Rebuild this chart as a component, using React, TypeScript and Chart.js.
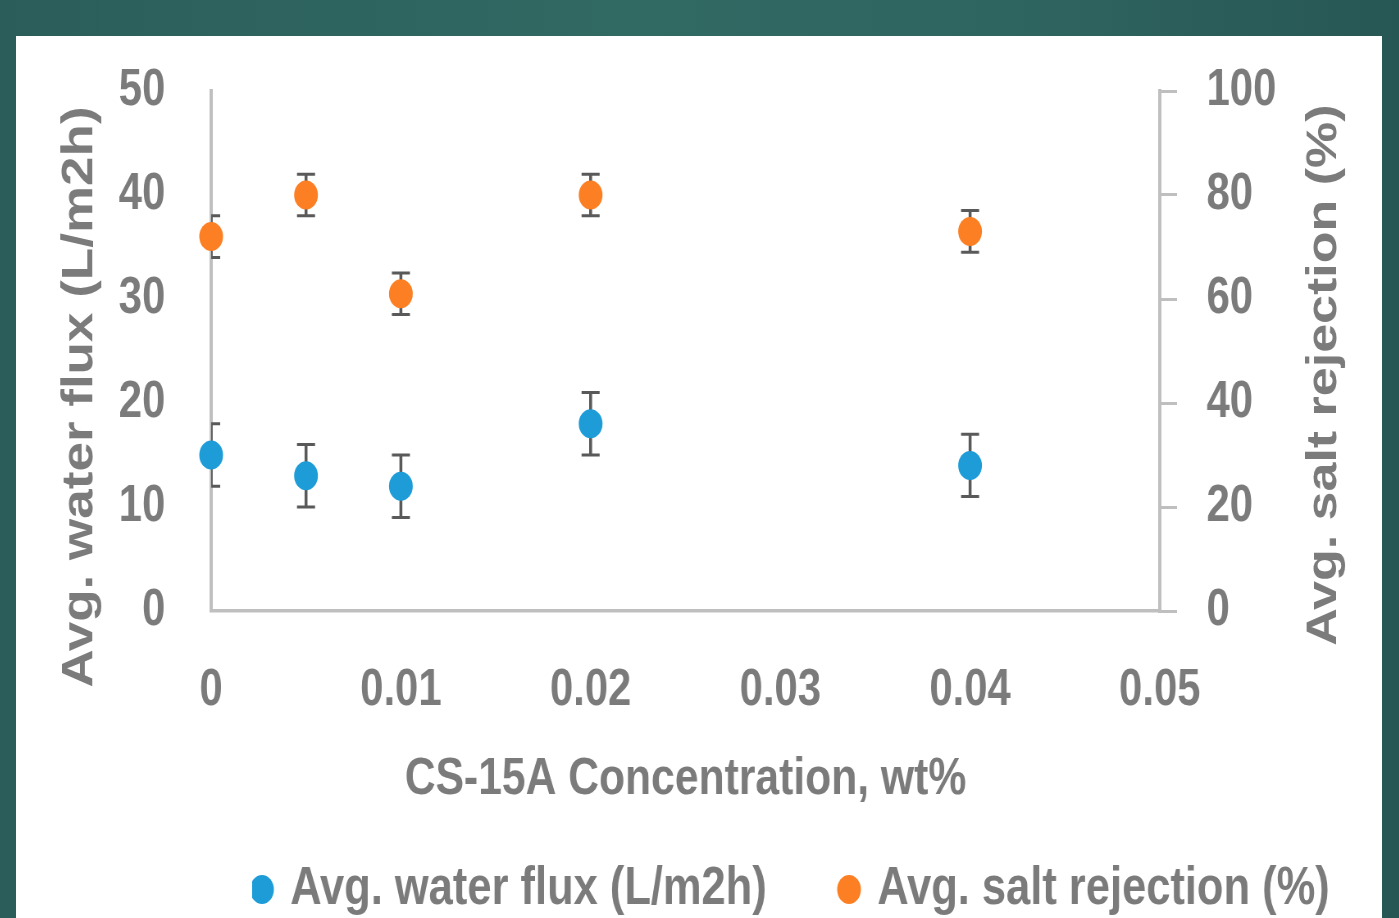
import React, { useEffect, useRef } from 'react';
import { Chart, registerables } from 'chart.js';

Chart.register(...registerables);

// ---- data ----
const xValues = [0, 0.005, 0.01, 0.02, 0.04];
const fluxValues = [15, 13, 12, 18, 14];
const fluxErrors = [3, 3, 3, 3, 3];
const rejectionValues = [72, 80, 61, 80, 73];
const rejectionErrors = [4, 4, 4, 4, 4];
const xTickLabels = ['0', '0.01', '0.02', '0.03', '0.04', '0.05'];
const leftTickLabels = ['0', '10', '20', '30', '40', '50'];
const rightTickLabels = ['0', '20', '40', '60', '80', '100'];
const seriesNames = ['Avg. water flux (L/m2h)', 'Avg. salt rejection (%)'];
const xTitle = 'CS-15A Concentration, wt%';
const leftTitle = 'Avg. water flux (L/m2h)';
const rightTitle = 'Avg. salt rejection (%)';

// ---- style ----
const TEXT = '#7b7b7b';
const AXIS = '#bfbfbf';
const BLUE = '#1e9cd8';
const ORANGE = '#fc7f24';
const FONT = '"Liberation Sans", Arial, sans-serif';
const CANVAS_W = 1666; // drawn wide, then squeezed horizontally like the original slide
const CANVAS_H = 882;
const PANEL_W = 1366;

const errorBarPlugin = {
  id: 'errorBars',
  beforeDatasetsDraw(chart: any) {
    const { ctx, chartArea } = chart;
    ctx.save();
    ctx.beginPath();
    ctx.rect(chartArea.left, chartArea.top - 40, chartArea.right - chartArea.left, chartArea.bottom - chartArea.top + 80);
    ctx.clip();
    ctx.strokeStyle = '#595959';
    chart.data.datasets.forEach((ds: any) => {
      const xs = chart.scales.x;
      const ys = chart.scales[ds.yAxisID];
      ds.data.forEach((pt: any, i: number) => {
        const e = ds.errors[i];
        const x = xs.getPixelForValue(pt.x);
        const yt = ys.getPixelForValue(pt.y + e);
        const yb = ys.getPixelForValue(pt.y - e);
        ctx.lineWidth = 3.6;
        ctx.beginPath();
        ctx.moveTo(x, yt);
        ctx.lineTo(x, yb);
        ctx.stroke();
        ctx.lineWidth = 3;
        ctx.beginPath();
        ctx.moveTo(x - 11, yt);
        ctx.lineTo(x + 11, yt);
        ctx.moveTo(x - 11, yb);
        ctx.lineTo(x + 11, yb);
        ctx.stroke();
      });
    });
    ctx.restore();
  },
};

const titlesPlugin = {
  id: 'yTitles',
  afterLayout(chart: any) {
    const lg = chart.legend;
    if (lg) {
      lg.left = 288;
      lg.top += 8;
      lg.bottom += 8;
    }
  },
  afterDraw(chart: any) {
    const { ctx, chartArea } = chart;
    const cy = (chartArea.top + chartArea.bottom) / 2;
    ctx.save();
    ctx.fillStyle = TEXT;
    ctx.textAlign = 'center';
    ctx.textBaseline = 'middle';
    ctx.save();
    ctx.font = `bold 53px ${FONT}`;
    ctx.translate(chart.scales.y.left + 78, cy + 46);
    ctx.rotate(-Math.PI / 2);
    ctx.fillText(leftTitle, 0, 0);
    ctx.restore();
    ctx.save();
    ctx.font = `bold 52px ${FONT}`;
    ctx.translate(chart.scales.y1.right - 70, cy + 24);
    ctx.rotate(-Math.PI / 2);
    ctx.fillText(rightTitle, 0, 0);
    ctx.restore();
    ctx.restore();
  },
};

export default function App() {
  const ref = useRef<HTMLCanvasElement>(null);
  useEffect(() => {
    const font = { family: FONT, size: 51, weight: 'bold' as const };
    const chart = new Chart(ref.current!, {
      type: 'scatter',
      data: {
        datasets: [
          {
            label: seriesNames[0],
            data: xValues.map((x, i) => ({ x, y: fluxValues[i] })),
            errors: fluxErrors,
            yAxisID: 'y',
            pointStyle: 'circle',
            pointRadius: 14.5,
            pointBorderWidth: 0,
            borderWidth: 0,
            backgroundColor: BLUE,
            borderColor: BLUE,
            clip: false,
          } as any,
          {
            label: seriesNames[1],
            data: xValues.map((x, i) => ({ x, y: rejectionValues[i] })),
            errors: rejectionErrors,
            yAxisID: 'y1',
            pointStyle: 'circle',
            pointRadius: 14.5,
            pointBorderWidth: 0,
            borderWidth: 0,
            backgroundColor: ORANGE,
            borderColor: ORANGE,
            clip: false,
          } as any,
        ],
      },
      options: {
        animation: false,
        responsive: true,
        maintainAspectRatio: false,
        layout: { padding: { top: 55, left: 0, right: 0, bottom: 0 } },
        plugins: {
          tooltip: { enabled: false },
          legend: {
            position: 'bottom',
            align: 'start',
            labels: {
              usePointStyle: true,
              boxWidth: 16,
              boxHeight: 20.5,
              padding: 4,
              color: TEXT,
              font: { family: FONT, size: 53, weight: 'bold' },
              generateLabels: (c: any) => {
                const items = Chart.defaults.plugins.legend.labels.generateLabels(c);
                items[0].text = items[0].text + '      ';
                return items;
              },
            },
          },
        },
        scales: {
          x: {
            type: 'linear',
            min: 0,
            max: 0.05,
            grid: { display: false },
            border: { display: true, color: AXIS, width: 3.5 },
            ticks: {
              stepSize: 0.01,
              padding: 41,
              color: TEXT,
              font,
              callback: (v: any) => xTickLabels[Math.round(Number(v) / 0.01)],
            },
            title: {
              display: true,
              text: xTitle,
              color: TEXT,
              font: { family: FONT, size: 52, weight: 'bold' },
              padding: { top: 0, bottom: 40 },
            },
            afterFit: (s: any) => {
              s.height = 240;
            },
          },
          y: {
            type: 'linear',
            position: 'left',
            min: 0,
            max: 50,
            grid: { display: false },
            border: { display: true, color: AXIS, width: 4 },
            ticks: {
              stepSize: 10,
              padding: 48,
              color: TEXT,
              font,
              callback: (v: any) => leftTickLabels[Math.round(Number(v) / 10)],
            },
            afterFit: (s: any) => {
              s.width = 238;
              s.paddingTop = 0;
              s.paddingBottom = 0;
            },
          },
          y1: {
            type: 'linear',
            position: 'right',
            min: 0,
            max: 100,
            grid: {
              display: true,
              drawOnChartArea: false,
              drawTicks: true,
              tickLength: 21,
              color: AXIS,
              lineWidth: 3,
            },
            border: { display: true, color: AXIS, width: 4 },
            ticks: {
              stepSize: 20,
              padding: 36,
              color: TEXT,
              font,
              callback: (v: any) => rightTickLabels[Math.round(Number(v) / 20)],
            },
            afterFit: (s: any) => {
              s.width = 271;
              s.paddingTop = 0;
              s.paddingBottom = 0;
            },
          },
        },
      } as any,
      plugins: [errorBarPlugin, titlesPlugin],
    });
    return () => chart.destroy();
  }, []);

  return (
    <div
      style={{
        position: 'fixed',
        inset: 0,
        background: 'linear-gradient(90deg, #2b5e5b 0%, #316963 45%, #2f6561 72%, #275755 100%)',
      }}
    >
      <div
        style={{
          position: 'absolute',
          left: 16,
          top: 36,
          width: PANEL_W,
          height: CANVAS_H,
          background: '#ffffff',
          overflow: 'hidden',
        }}
      >
        <div
          style={{
            width: CANVAS_W,
            height: CANVAS_H,
            transform: `scaleX(${PANEL_W / CANVAS_W})`,
            transformOrigin: '0 0',
          }}
        >
          <canvas ref={ref} />
        </div>
      </div>
    </div>
  );
}
